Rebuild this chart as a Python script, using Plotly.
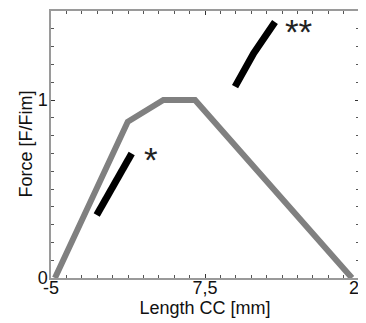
import plotly.graph_objects as go

# Gray force-length curve (length CC [mm], force [F/Fim])
fl_x = [-4.68, 1.23, 4.12, 6.69, 19.43]
fl_y = [0.0, 0.878, 1.0, 1.0, 0.0]

# Black segment "*"
s1_x = [-1.29, 1.55]
s1_y = [0.354, 0.70]

# Black segment "**"
s2_x = [9.94, 11.45, 13.18]
s2_y = [1.075, 1.262, 1.438]

# Annotation labels
ann_x = [3.1, 15.13]
ann_y = [0.69, 1.407]
ann_text = ["*", "**"]

x_tickvals = [-5, 7.5, 20]
x_ticktext = ["-5", "7,5", "20"]
y_tickvals = [0, 1]
y_ticktext = ["0", "1"]

FONT = "Liberation Sans, Arial, sans-serif"

fig = go.Figure()
fig.add_trace(go.Scatter(x=fl_x, y=fl_y, mode="lines",
                         line=dict(color="#808080", width=6), showlegend=False))
fig.add_trace(go.Scatter(x=s1_x, y=s1_y, mode="lines",
                         line=dict(color="#000000", width=7), showlegend=False))
fig.add_trace(go.Scatter(x=s2_x, y=s2_y, mode="lines",
                         line=dict(color="#000000", width=7), showlegend=False))
for x, y, t in zip(ann_x, ann_y, ann_text):
    fig.add_annotation(x=x, y=y, text=t, showarrow=False, yshift=-4,
                       font=dict(size=35, color="#222222", family=FONT))

# y axis title placed as rotated text left of the axis
fig.add_annotation(xref="paper", yref="paper", x=0, y=0.5, xshift=-26,
                   xanchor="center", yanchor="middle",
                   text="Force [F/Fim]", textangle=-90, showarrow=False,
                   font=dict(size=18, color="#111111", family=FONT))

axis_common = dict(showline=True, linecolor="#9a9a9a", linewidth=1.5, mirror="allticks",
                   ticks="inside", ticklen=4, tickcolor="#333333", showgrid=False,
                   zeroline=False, automargin=False, ticklabeloverflow="allow",
                   tickfont=dict(size=18, color="#111111", family=FONT))

fig.update_xaxes(range=[-5, 20], tickvals=x_tickvals, ticktext=x_ticktext,
                 ticklabelstandoff=-7,
                 minor=dict(dtick=1.25, ticks="inside", ticklen=3, tickcolor="#555555",
                            showgrid=False),
                 title=dict(text="Length CC [mm]", standoff=3,
                            font=dict(size=18, color="#111111", family=FONT)),
                 **axis_common)
fig.update_yaxes(range=[0, 1.5], tickvals=y_tickvals, ticktext=y_ticktext,
                 ticklabelstandoff=-2,
                 minor=dict(dtick=0.1, ticks="inside", ticklen=3, tickcolor="#555555",
                            showgrid=False),
                 **axis_common)

# page body has an 8px margin, so size/margins are offset accordingly
fig.update_layout(width=358, height=315, margin=dict(l=43, r=7, t=3, b=45),
                  plot_bgcolor="white", paper_bgcolor="white",
                  font=dict(family=FONT))
fig.write_html("out.html")
